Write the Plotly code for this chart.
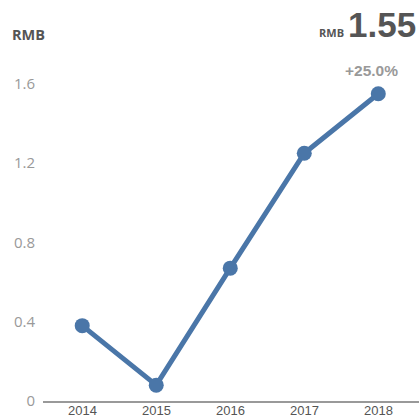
import plotly.graph_objects as go

years = [2014, 2015, 2016, 2017, 2018]
values = [0.38, 0.08, 0.67, 1.25, 1.55]
y_ticks = [0, 0.4, 0.8, 1.2, 1.6]
y_tick_labels = ["0", "0.4", "0.8", "1.2", "1.6"]
latest_value = "1.55"
change_label = "+25.0%"

line_color = "#4a76a8"

fig = go.Figure()
fig.add_trace(go.Scatter(
    x=years,
    y=values,
    mode="lines+markers",
    line=dict(color=line_color, width=5),
    marker=dict(color=line_color, size=15),
    cliponaxis=False,
    hoverinfo="x+y",
))

# year labels sit tight under the axis line, so draw them as annotations
year_labels = [
    dict(text=str(y), x=y, xref="x", yref="paper", y=0, xanchor="center",
         yanchor="middle", yshift=-9, showarrow=False,
         font=dict(family="Liberation Sans, Arial", size=13, color="#555555"))
    for y in years
]

fig.update_layout(
    width=419,
    height=417,
    margin=dict(l=43, r=0, t=60, b=16),
    paper_bgcolor="white",
    plot_bgcolor="white",
    showlegend=False,
    xaxis=dict(
        range=[2013.47, 2018.55],
        showticklabels=False,
        showgrid=False,
        zeroline=False,
        showline=True,
        linecolor="#999999",
        linewidth=2,
        ticks="",
        automargin=False,
    ),
    yaxis=dict(
        range=[0, 1.72],
        tickvals=y_ticks,
        ticktext=y_tick_labels,
        showgrid=False,
        zeroline=False,
        showline=False,
        ticks="",
        automargin=False,
        tickfont=dict(family="Open Sans", size=15, color="#999999"),
        ticklabelstandoff=7,
    ),
    annotations=year_labels + [
        dict(text="<b>RMB</b>", xref="paper", yref="paper", x=0, y=1.0,
             xanchor="left", yanchor="middle", xshift=-33, yshift=26, showarrow=False,
             font=dict(family="Open Sans", size=14.5, color="#555555")),
        dict(text="<b>RMB</b>", xref="paper", yref="paper", x=1.0, y=1.0,
             xanchor="right", yanchor="middle", xshift=-73, yshift=28, showarrow=False,
             font=dict(family="Open Sans", size=11, color="#555555")),
        dict(text="<b>" + latest_value + "</b>", xref="paper", yref="paper", x=1.0, y=1.0,
             xanchor="right", yanchor="middle", xshift=-1, yshift=36, showarrow=False,
             font=dict(family="Liberation Sans, Arial", size=35, color="#555555")),
        dict(text="<b>" + change_label + "</b>", xref="paper", yref="paper", x=1.0, y=1.0,
             xanchor="center", yanchor="middle", xshift=-48, yshift=-10, showarrow=False,
             font=dict(family="Liberation Sans, Arial", size=15.5, color="#999999")),
    ],
)

fig.write_html(
    "out.html",
    config={"displayModeBar": False},
    post_script="document.body.style.margin='0';document.body.style.overflow='hidden';",
)
